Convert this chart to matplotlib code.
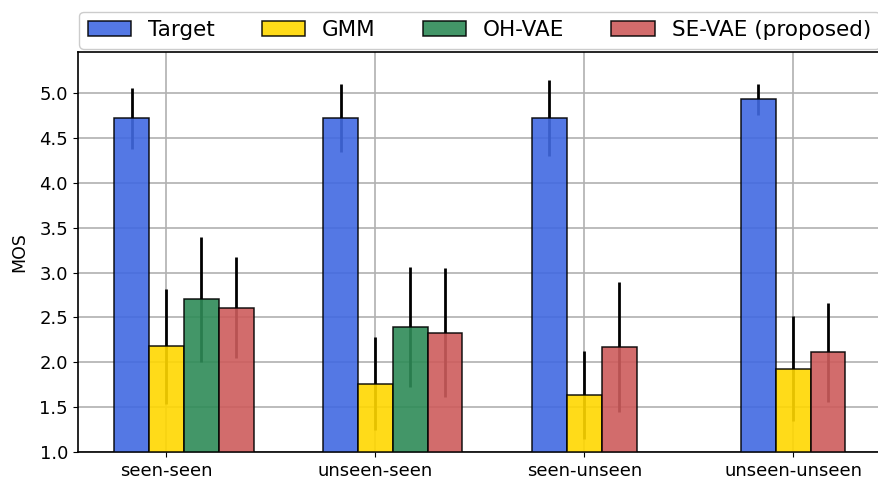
import numpy as np
import matplotlib
matplotlib.use("Agg")
import matplotlib.pyplot as plt

groups = ["seen-seen", "unseen-seen", "seen-unseen", "unseen-unseen"]
series = ["Target", "GMM", "OH-VAE", "SE-VAE (proposed)"]
colors = ["royalblue", "gold", "seagreen", "indianred"]

target_mean = [4.72, 4.72, 4.72, 4.93]
target_err = [0.34, 0.38, 0.42, 0.17]
gmm_mean = [2.18, 1.76, 1.64, 1.93]
gmm_err = [0.64, 0.52, 0.49, 0.58]
ohvae_mean = [2.70, 2.39, np.nan, np.nan]
ohvae_err = [0.70, 0.67, np.nan, np.nan]
sevae_mean = [2.61, 2.33, 2.17, 2.11]
sevae_err = [0.56, 0.72, 0.72, 0.55]

means = [target_mean, gmm_mean, ohvae_mean, sevae_mean]
errs = [target_err, gmm_err, ohvae_err, sevae_err]

fig = plt.figure(figsize=(8.79, 4.86), dpi=100)
W, H = 879, 486
ax = fig.add_axes([77.7 / W, 1 - 452 / H, (882 - 77.7) / W, (452 - 52) / H])

width = 1 / 6
x = np.arange(len(groups))

# slot index within each group: skip series that have no value there
slots = np.zeros((len(series), len(groups)))
for g in range(len(groups)):
    k = 0
    for s in range(len(series)):
        if not np.isnan(means[s][g]):
            slots[s, g] = k
            k += 1

for s in range(len(series)):
    m = np.array(means[s], dtype=float)
    e = np.array(errs[s], dtype=float)
    ok = ~np.isnan(m)
    pos = x[ok] + (slots[s, ok] - 1) * width
    ax.errorbar(pos, m[ok], yerr=e[ok], fmt="none", ecolor="black",
                elinewidth=2, capsize=0, zorder=2)
    ax.bar(pos, m[ok] - 1.0, bottom=1.0, width=width, color=colors[s],
           alpha=0.9, edgecolor="black", linewidth=1.1, label=series[s],
           zorder=3)

ax.set_ylim(1.0, 5.457)
ax.set_xlim(-0.425, 3.425)
ax.set_yticks(np.arange(1.0, 5.01, 0.5))
ax.set_xticks(x)
ax.set_xticklabels(groups)
ax.tick_params(axis="both", labelsize=13)
ax.set_ylabel("MOS", fontsize=12.5, labelpad=8)
ax.set_axisbelow(True)
ax.grid(True, color="#b0b0b0", linewidth=1.2)
for sp in ax.spines.values():
    sp.set_linewidth(1.2)

ax.legend(loc="lower left", bbox_to_anchor=(0.002, 1.008, 0.995, 0.1),
          mode="expand", ncol=4, borderaxespad=0, fontsize=15.5,
          framealpha=1, edgecolor="#cccccc")

fig.savefig("out.png", dpi=100)
